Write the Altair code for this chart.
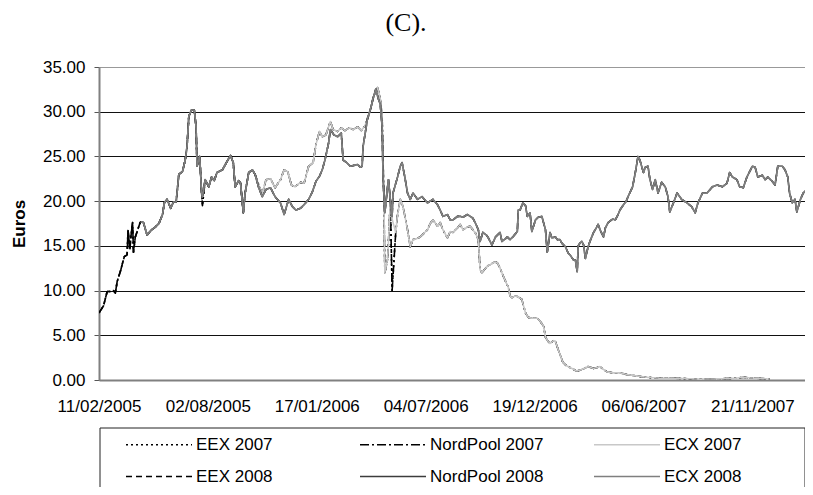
import altair as alt
import pandas as pd

# ---------------- data ----------------
tick_labels = ["11/02/2005", "02/08/2005", "17/01/2006", "04/07/2006",
               "19/12/2006", "06/06/2007", "21/11/2007"]
tick_step = 120  # trading days between labelled categories

series_names = ["EEX 2007", "NordPool 2007", "ECX 2007",
                "EEX 2008", "NordPool 2008", "ECX 2008"]
series_colors = ["#000000", "#000000", "#c8c8c8", "#000000", "#3c3c3c", "#7f7f7f"]
series_dashes = [[2, 3], [9, 3, 2, 3], [1, 0], [6, 4], [1, 0], [1, 0]]
series_widths = [1.6, 1.6, 2.4, 1.6, 3.2, 3.0]

# Feb-Apr 2005: only EEX / NordPool quotes
early_days = [0, 5, 9, 13, 16, 18, 20, 24, 26, 28, 31, 32, 34, 35, 37, 38, 40, 42, 45]
early_prices = [7.5, 8.3, 9.9, 9.9, 10.0, 9.7, 11.0, 12.3, 13.1, 13.8, 14.0, 16.8,
                14.6, 15.9, 17.6, 14.3, 16.0, 16.6, 17.5]

# 2007 and 2008 contracts quoted almost identically until autumn 2005
shared_days = [46, 49, 53, 57, 62, 66, 70, 72, 75, 79, 82, 85, 88, 92, 95, 97, 99, 102,
               105, 107, 108, 111, 113, 114, 117, 121, 124, 127, 130, 136, 142, 145, 148,
               150, 154, 156, 159, 161, 165, 169, 172]
shared_prices = [17.7, 17.6, 16.2, 16.7, 17.1, 17.5, 18.5, 19.8, 20.2, 19.2, 19.9, 19.9,
                 23.0, 23.3, 24.6, 26.1, 29.5, 30.2, 30.2, 28.3, 23.9, 25.0, 21.0, 20.5,
                 22.4, 21.6, 22.7, 22.3, 23.2, 23.5, 24.6, 25.1, 24.3, 21.6, 22.3, 22.0,
                 18.7, 20.9, 23.2, 23.5, 23.0]

days_2007 = [176, 180, 184, 189, 194, 200, 204, 208, 212, 216, 222, 226, 231, 236, 239,
             243, 246, 250, 255, 258, 263, 267, 271, 276, 280, 285, 289, 293, 297, 300,
             303, 307, 310, 312, 314, 315, 318, 320, 321, 323, 327, 329, 332, 335, 340,
             343, 346, 350, 354, 358, 362, 365, 368, 373, 376, 379, 384, 387, 390, 395,
             398, 401, 406, 409, 412, 415, 418, 420, 422, 426, 429, 431, 436, 439, 442,
             446, 449, 451, 453, 455, 459, 462, 466, 470, 473, 477, 483, 486, 490, 492,
             495, 497, 501, 503, 506, 509, 511, 515, 517, 521, 526, 530, 535, 539, 545,
             549, 552, 557, 560, 567, 574, 582, 589, 596, 604, 611, 618, 626, 635, 648,
             662, 679, 690, 701, 712, 715, 723, 732, 739]
prices_2007 = [21.8, 20.8, 22.4, 22.5, 21.5, 22.4, 23.5, 23.3, 21.8, 21.6, 22.1, 22.0,
               23.9, 24.3, 26.3, 27.8, 27.2, 27.4, 28.9, 28.0, 27.8, 28.2, 27.9, 28.2,
               28.0, 28.3, 27.9, 28.4, 29.5, 30.6, 31.8, 32.7, 31.4, 29.5, 20.0, 12.0,
               13.5, 17.5, 20.4, 18.0, 16.5, 18.5, 20.2, 19.4, 16.8, 14.9, 15.7, 15.8,
               16.0, 16.4, 16.8, 17.5, 17.9, 17.2, 17.6, 16.8, 15.9, 16.6, 16.5, 17.0,
               17.4, 16.8, 17.1, 17.2, 16.8, 16.4, 15.7, 12.3, 12.0, 12.5, 12.8, 12.9,
               13.2, 13.1, 12.5, 11.5, 10.8, 10.4, 9.4, 9.2, 9.4, 9.3, 9.0, 7.5, 7.0,
               6.9, 6.9, 6.6, 6.0, 4.8, 4.3, 4.1, 4.4, 4.3, 3.4, 2.6, 2.0, 1.6, 1.5, 1.3,
               1.0, 1.1, 1.3, 1.5, 1.3, 1.4, 1.5, 1.1, 0.9, 0.8, 0.8, 0.6, 0.5, 0.4, 0.3,
               0.25, 0.2, 0.2, 0.2, 0.15, 0.1, 0.12, 0.15, 0.2, 0.3, 0.25, 0.2, 0.15, 0.1]

# EEX / NordPool 2007 quotes that dip below the ECX line
black_2007_days = [114, 323]
black_2007_prices = [19.5, 10.0]

days_2008 = [176, 180, 184, 189, 194, 200, 204, 209, 213, 217, 222, 226, 231, 235, 239,
             243, 246, 249, 253, 255, 259, 263, 267, 269, 273, 277, 281, 285, 288, 290,
             291, 296, 299, 302, 305, 308, 310, 312, 313, 315, 318, 319, 321, 323, 324,
             329, 332, 334, 337, 340, 343, 346, 351, 356, 362, 365, 368, 373, 376, 379,
             384, 387, 390, 395, 398, 401, 406, 409, 412, 415, 418, 420, 423, 427, 429,
             433, 437, 439, 442, 444, 448, 450, 453, 456, 461, 462, 464, 467, 470, 472,
             475, 477, 481, 484, 488, 492, 494, 497, 499, 503, 505, 508, 510, 514, 517,
             519, 523, 525, 527, 528, 530, 532, 534, 536, 539, 541, 545, 548, 550, 553,
             556, 558, 561, 566, 569, 572, 574, 578, 581, 583, 588, 591, 594, 596, 600,
             602, 605, 607, 610, 613, 616, 620, 624, 627, 629, 633, 637, 640, 642, 648,
             653, 657, 660, 665, 670, 676, 681, 687, 692, 695, 698, 703, 706, 710, 714,
             720, 723, 726, 731, 734, 737, 742, 745, 748, 753, 756, 759, 761, 764, 767,
             769, 773, 776, 780, 783, 786]
prices_2008 = [21.5, 20.5, 21.3, 21.5, 20.5, 19.8, 18.5, 20.2, 19.4, 19.0, 19.2, 19.6,
               20.2, 21.0, 22.2, 22.8, 23.5, 24.6, 26.5, 28.0, 27.4, 27.2, 27.6, 24.6,
               24.3, 23.9, 24.0, 24.1, 23.8, 23.9, 26.1, 29.3, 30.2, 31.5, 32.5, 31.4,
               30.8, 28.3, 22.7, 18.7, 21.6, 22.4, 20.2, 18.3, 20.9, 22.7, 23.9, 24.3,
               22.7, 20.9, 20.2, 20.9, 20.2, 20.5, 19.8, 20.0, 20.2, 19.6, 19.0, 18.3,
               18.5, 17.9, 17.9, 18.3, 18.3, 18.2, 18.5, 18.3, 18.1, 17.5, 16.8, 15.5,
               16.5, 16.2, 15.9, 15.1, 16.0, 16.2, 16.5, 15.5, 15.8, 16.0, 15.7, 16.0,
               16.6, 19.0, 19.0, 19.8, 19.5, 18.3, 18.7, 16.6, 17.9, 18.2, 18.3, 16.8,
               14.3, 16.5, 15.9, 16.0, 15.7, 15.7, 15.3, 14.9, 14.2, 14.0, 13.4, 13.4,
               12.1, 15.0, 15.3, 15.5, 15.1, 13.6, 14.9, 15.5, 16.5, 17.0, 17.4, 16.6,
               16.0, 17.0, 17.6, 18.0, 17.9, 18.5, 19.0, 19.6, 20.0, 20.5, 21.6, 23.2,
               25.0, 24.6, 23.2, 23.8, 23.9, 22.5, 21.3, 22.4, 20.9, 22.1, 21.6, 20.5,
               18.8, 19.8, 20.9, 20.5, 20.2, 19.8, 19.4, 18.7, 19.8, 20.9, 20.9, 21.6,
               21.8, 21.6, 22.0, 23.2, 22.7, 22.4, 21.6, 21.5, 22.7, 23.9, 23.8, 22.7,
               22.9, 22.4, 22.7, 22.2, 21.8, 23.9, 23.9, 23.5, 22.7, 20.9, 19.8, 20.2,
               18.8, 20.2, 20.9, 21.3, 21.6, 21.3]

# ---------------- build table ----------------
def series_rows(name, parts, overrides=None):
    pts = {}
    for days, prices in parts:
        for d, p in zip(days, prices):
            pts[d] = p
    if overrides:
        for d, p in zip(*overrides):
            pts[d] = p
    return [{"series": name, "day": d, "price": pts[d]} for d in sorted(pts)]

rows = []
rows += series_rows("EEX 2007", [(early_days, early_prices), (shared_days, shared_prices),
                                 (days_2007, prices_2007)], (black_2007_days, black_2007_prices))
rows += series_rows("NordPool 2007", [(early_days, early_prices), (shared_days, shared_prices),
                                      (days_2007, prices_2007)], (black_2007_days, black_2007_prices))
rows += series_rows("ECX 2007", [(shared_days, shared_prices), (days_2007, prices_2007)])
rows += series_rows("EEX 2008", [(early_days, early_prices), (shared_days, shared_prices),
                                 (days_2008, prices_2008)])
rows += series_rows("NordPool 2008", [(shared_days, shared_prices), (days_2008, prices_2008)])
rows += series_rows("ECX 2008", [(shared_days, shared_prices), (days_2008, prices_2008)])
df = pd.DataFrame(rows)

tick_values = [i * tick_step for i in range(len(tick_labels))]
label_expr = "[" + ",".join("'%s'" % t for t in tick_labels) + "][round(datum.value / %d)]" % tick_step

FONT = "Liberation Sans"

x_enc = alt.X("day:Q",
              scale=alt.Scale(domain=[0, 778], nice=False, zero=False),
              axis=alt.Axis(values=tick_values, labelExpr=label_expr, grid=False,
                            ticks=False, domainColor="#808080", domainWidth=2,
                            labelFontSize=17, labelFont=FONT, labelColor="black",
                            labelPadding=18, labelOverlap=False, labelFlush=False,
                            labelBound=False),
              title=None)
y_enc = alt.Y("price:Q",
              scale=alt.Scale(domain=[0, 35], nice=False, zero=True),
              axis=alt.Axis(values=[0, 5, 10, 15, 20, 25, 30, 35], format=".2f",
                            labelFontSize=17, labelFont=FONT, labelColor="black",
                            labelPadding=9, tickSize=5, tickColor="#555555",
                            domainColor="#808080", domainWidth=2,
                            gridColor=alt.condition("datum.value == 35 || datum.value == 0",
                                                    alt.value("#999999"), alt.value("#111111")),
                            gridWidth=1.2,
                            titleFont=FONT, titleFontSize=17, titleFontWeight="bold",
                            titleColor="black", titlePadding=14),
              title="Euros")

# long horizontal line symbol: custom path scaled by sqrt(symbolSize)/2 = 5.5 px
legend = alt.Legend(title=None, orient="none", legendX=24, legendY=369,
                    direction="horizontal", columns=3, gridAlign="all",
                    columnPadding=46, rowPadding=14,
                    symbolType="M-1,0H11", symbolSize=121, labelFontSize=17,
                    labelFont=FONT, labelColor="black", labelLimit=300, labelOffset=56,
                    padding=0)

color_enc = alt.Color("series:N", scale=alt.Scale(domain=series_names, range=series_colors),
                      legend=legend)
dash_enc = alt.StrokeDash("series:N", scale=alt.Scale(domain=series_names, range=series_dashes),
                          legend=legend)
width_enc = alt.StrokeWidth("series:N", scale=alt.Scale(domain=series_names, range=series_widths),
                            legend=legend)

layers = []
for name in series_names:
    layers.append(
        alt.Chart(df).transform_filter(alt.datum.series == name)
        .mark_line(clip=True, strokeJoin="round")
        .encode(x=x_enc, y=y_enc, color=color_enc, strokeDash=dash_enc,
                strokeWidth=width_enc, detail="series:N")
    )

# frame around the legend (decoration, outside the plot area)
legend_frame = alt.Chart(pd.DataFrame({"frame": [0]})).mark_rect(
    fill=None, stroke="#222222", strokeWidth=1, clip=False
).encode(x=alt.value(1), x2=alt.value(706), y=alt.value(361), y2=alt.value(440))

chart = alt.layer(legend_frame, *layers).properties(
    width=706, height=313,
    title=alt.TitleParams("(C).", font="Liberation Serif", fontSize=26,
                          fontWeight="normal", color="black", anchor="middle",
                          dx=-46, offset=22),
    autosize=alt.AutoSizeParams(type="none"),
    padding={"left": 91, "top": 59, "right": 0, "bottom": 107},
).configure_view(stroke=None).configure(background="white")

chart.save("out.html", embed_options={"renderer": "svg", "actions": False})
